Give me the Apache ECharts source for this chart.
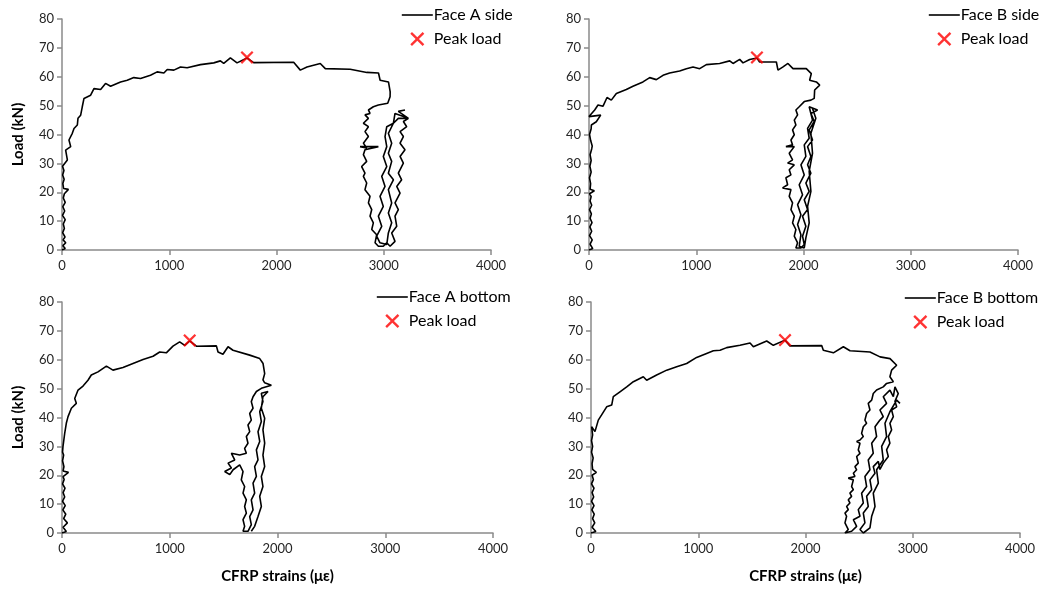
<!DOCTYPE html>
<html><head><meta charset="utf-8">
<script src="https://cdn.jsdelivr.net/npm/echarts@6/dist/echarts.min.js"></script>
<style>html,body{margin:0;padding:0;background:#fff}#c{width:1044px;height:592px}</style>
</head><body><div id="c"></div>
<script>
// Tick labels
const xTicks = [0, 1000, 2000, 3000, 4000];
const yTicks = [0, 10, 20, 30, 40, 50, 60, 70, 80];
const panelNames = ['Face A side', 'Face B side', 'Face A bottom', 'Face B bottom'];
const peakName = 'Peak load';

// [strain (με), load (kN)]
const faceASide = [
 [0,0],[30,0.5],[8,1.5],[35,2.5],[10,3.5],[28,4.5],[6,6],[22,7.5],[12,9],[30,10.5],[5,12],[25,13.5],[8,15],[30,16.5],[12,18],[22,19.5],[60,21],[15,21.3],[8,23],[20,24.5],[6,26],[18,27.5],[5,29],
 [19,28.9],[50,31.2],[34,34.6],[81,35.8],[65,38.1],[96,40.4],[112,42.1],[143,43.3],[149,45.6],[174,46.7],[189,49.6],
 [205,52.5],[267,53.6],[298,55.9],[360,55.6],[406,57.7],[453,56.7],[546,58.2],[608,58.8],[670,59.7],[732,59.4],
 [825,60.5],[887,61.7],[950,61.3],[981,62.5],[1043,62.3],[1105,63.4],[1167,63.1],[1291,64.2],[1415,64.8],[1477,65.5],
 [1508,64.6],[1570,66.5],[1632,64.8],[1725,66.5],[1787,64.9],[2160,65.0],[2222,62.3],[2284,63.4],[2408,64.6],
 [2455,62.8],[2687,62.6],[2842,61.5],[2951,61.3],[2966,58.8],[3044,58.2],[3060,54.8],
 [3059,53.1],[3037,50.8],[2950,50.2],[2903,49.6],[2857,48.5],[2872,47.3],[2825,46.8],[2857,45.6],[2810,43.9],[2857,42.7],
 [2825,41.0],[2857,39.3],[2810,37.0],[2841,35.3],[2779,35.8],[2950,35.8],[2825,34.7],[2810,33.0],[2841,30.7],[2794,28.9],
 [2825,26.6],[2810,25.5],[2841,23.2],[2825,20.9],[2872,18.6],[2857,16.3],[2888,14.0],[2872,11.7],[2903,9.4],[2888,7.1],
 [2934,5.3],[2919,2.5],[2950,1.3],[2996,1.3],[3028,2.5],[3059,1.3],[3105,3.0],[3074,5.9],[3121,8.2],[3105,11.7],
 [3136,14.0],[3105,16.3],[3152,19.7],[3121,22.0],[3167,24.3],[3136,26.6],[3183,30.1],[3152,32.4],[3198,34.7],[3152,37.0],
 [3183,39.3],[3152,41.0],[3214,42.7],[3183,44.5],[3230,45.6],[3136,45.6],[3090,43.9],[3028,42.7],[3012,39.3],[3028,35.8],
 [2996,32.4],[3028,28.9],[2981,25.5],[3012,22.0],[2965,18.6],[2996,15.1],[2950,11.7],[2981,8.2],[2934,4.8],[2965,2.5],
 [3028,1.9],[3043,5.9],[3074,9.4],[3043,12.8],[3074,16.3],[3043,20.9],[3090,24.3],[3043,26.6],[3074,30.7],[3043,33.5],
 [3074,37.0],[3043,40.4],[3090,43.9],[3105,47.3],[3230,45.6],[3136,48.0],[3198,48.5]
];
const faceBSide = [
 [0,0],[35,0.5],[10,2],[30,3.5],[5,5],[25,6.5],[8,8],[28,9.5],[10,11],[22,12.5],[5,14],[25,15.5],[10,17],[20,18.5],[5,19.5],[50,20.5],[10,21],[15,23],[5,25],[20,27],[8,29],[20,31],[10,33],[25,35],
 [30,36],[15,38],[5,40],[20,42],[22,43.3],[68,44.4],[109,46.7],[0,46.2],[53,48.5],[84,50.2],[131,49.8],[168,52.8],
 [208,51.9],[255,54.2],[348,55.6],[410,56.7],[503,58.2],[566,59.7],[628,59.0],[690,60.5],[752,61.3],[845,62.0],
 [908,62.8],[970,63.4],[1032,62.8],[1094,64.2],[1218,64.6],[1312,65.5],[1343,64.6],[1405,66.0],[1436,64.8],
 [1498,66.0],[1566,66.5],[1591,65.1],[1747,65.1],[1762,62.3],[1809,63.4],[1855,64.6],[1902,62.8],[2026,62.8],
 [2073,61.1],[2057,58.8],[2120,58.2],[2151,57.1],[2104,55.4],
 [2100,52.5],[2069,51.9],[2007,51.4],[1960,49.6],[1929,48.5],[1945,46.8],[1914,45.0],[1929,43.3],[1898,41.6],[1914,39.9],
 [1883,38.1],[1898,36.4],[1836,35.8],[1914,35.8],[1867,33.5],[1898,31.2],[1852,30.1],[1914,29.5],[1867,27.8],[1883,26.0],
 [1836,25.0],[1852,22.6],[1805,21.5],[1883,20.9],[1867,18.6],[1898,16.3],[1883,14.0],[1914,11.7],[1898,9.4],[1929,7.1],
 [1914,4.8],[1945,2.5],[1929,0.7],[1976,0.7],[2007,1.9],[1991,4.8],[2022,8.2],[1991,11.7],[2038,14.0],[2007,17.4],
 [2053,20.3],[2022,23.2],[2069,26.6],[2038,29.5],[2069,32.4],[2038,35.8],[2084,38.1],[2053,41.6],[2100,44.5],[2069,47.3],
 [2131,48.5],[2053,49.6],[2084,45.0],[2038,42.1],[2053,38.7],[2007,36.4],[2022,32.4],[1976,29.5],[2007,26.0],[1960,22.6],
 [1991,19.1],[1945,15.7],[1976,12.2],[1945,8.8],[1976,5.3],[1960,1.3],[2007,0.7],[2022,4.2],[2053,9.4],[2038,15.1],
 [2069,20.3],[2053,27.2],[2084,33.5],[2069,40.4],[2115,45.6],[2084,49.0]
];
const faceABottom = [
 [0,0],[40,0.5],[10,2],[50,3.5],[15,5],[35,6.5],[8,8],[30,9.5],[5,11],[25,12.5],[10,14],[28,15.5],[5,17],[20,18.5],[10,19.5],[60,21],[10,21.5],[18,23],[5,25],[15,27],[5,28],
 [9,29.9],[25,34.5],[40,38.0],[56,40.3],[87,43.2],[133,44.9],[118,46.6],[149,49.5],[195,50.9],[241,52.9],
 [272,54.7],[334,55.8],[412,57.8],[473,56.4],[566,57.3],[659,58.7],[752,60.1],[845,61.2],[907,62.7],[968,62.4],
 [1030,64.7],[1092,66.2],[1139,65.0],[1185,66.5],[1247,64.7],[1433,64.8],[1448,62.7],[1494,61.9],[1541,64.5],
 [1587,63.3],[1742,61.6],[1835,60.4],[1866,58.7],[1881,55.2],
 [1865,53.0],[1881,52.0],[1865,51.8],[1943,51.2],[1850,50.1],[1804,49.0],[1773,47.2],[1757,45.5],[1773,43.2],[1742,41.4],
 [1757,39.1],[1726,37.4],[1742,35.1],[1711,33.4],[1726,31.1],[1695,29.3],[1711,27.6],[1649,27.0],[1572,27.6],[1603,25.3],
 [1541,24.2],[1572,22.5],[1510,21.3],[1557,20.2],[1588,21.9],[1649,23.6],[1680,21.3],[1664,18.4],[1695,16.1],[1680,13.8],
 [1711,11.5],[1695,9.2],[1711,6.9],[1680,4.6],[1695,2.3],[1680,0.6],[1726,0.6],[1757,2.9],[1742,5.7],[1773,8.0],
 [1757,11.5],[1788,13.8],[1773,17.3],[1804,19.6],[1788,23.0],[1819,25.3],[1804,28.8],[1835,31.7],[1819,35.1],[1850,38.6],
 [1835,42.0],[1865,45.5],[1850,48.4],[1912,49.0],[1865,47.2],[1850,43.2],[1881,39.7],[1865,35.7],[1881,31.1],[1865,27.0],
 [1881,23.0],[1850,19.6],[1865,16.1],[1835,12.7],[1850,9.2],[1819,5.7],[1788,2.3],[1757,0.6]
];
const faceBBottom = [
 [0,0],[45,0.5],[10,2],[35,3.5],[15,5],[30,6.5],[8,8],[28,9.5],[5,11],[25,12.5],[10,14],[28,15.5],[5,17],[22,18.5],[10,20],[50,21],[15,22],[10,24],[20,26],[5,28],[15,30],[5,32],[15,34],
 [6,36.8],[37,35.1],[68,39.1],[99,40.9],[146,43.7],[193,44.3],[208,47.2],[270,48.9],[333,50.6],[395,52.4],
 [488,54.1],[519,52.9],[612,54.7],[706,56.4],[799,57.6],[892,58.7],[985,60.8],[1078,62.2],[1141,63.1],[1203,63.3],
 [1265,64.2],[1389,65.0],[1483,65.8],[1514,64.5],[1638,66.5],[1700,65.0],[1809,66.8],[1855,64.8],[2151,64.9],
 [2166,63.3],[2260,62.4],[2353,64.5],[2415,63.1],[2601,62.7],[2695,61.0],[2788,60.4],[2850,58.1],[2803,56.4],
 [2787,54.1],[2819,52.4],[2756,51.8],[2725,50.6],[2663,49.5],[2632,48.3],[2617,46.0],[2585,44.9],[2601,42.6],[2570,41.4],
 [2554,39.1],[2570,38.0],[2539,36.8],[2523,34.5],[2539,33.4],[2508,32.2],[2477,31.7],[2508,31.1],[2492,28.8],[2508,27.6],
 [2477,26.5],[2492,24.2],[2461,23.0],[2477,21.9],[2446,20.7],[2461,19.6],[2399,19.0],[2446,18.4],[2430,16.1],[2446,15.0],
 [2414,13.8],[2430,12.7],[2399,11.5],[2414,10.4],[2383,9.2],[2399,8.1],[2368,6.9],[2383,5.8],[2368,3.5],[2399,1.2],
 [2368,0.0],[2430,0.6],[2477,2.3],[2446,4.6],[2508,5.8],[2492,8.1],[2539,10.4],[2523,13.8],[2570,16.1],[2554,19.6],
 [2601,21.9],[2585,25.3],[2632,27.6],[2617,31.1],[2663,33.4],[2648,36.8],[2694,39.1],[2725,40.3],[2694,42.6],[2756,44.9],
 [2725,47.2],[2787,49.5],[2819,47.2],[2834,50.6],[2865,48.3],[2834,45.6],[2850,43.7],[2803,42.6],[2819,40.3],[2787,38.0],
 [2803,35.7],[2772,33.4],[2787,31.1],[2756,28.8],[2772,26.5],[2725,24.2],[2694,22.0],[2679,24.8],[2632,23.0],[2648,20.7],
 [2601,18.4],[2617,15.0],[2570,12.7],[2585,9.2],[2539,6.9],[2554,3.5],[2508,1.2],[2539,0.0],[2601,1.8],[2617,5.8],
 [2648,9.2],[2632,13.8],[2679,17.3],[2663,21.9],[2725,25.3],[2710,30.0],[2756,33.4],[2741,38.0],[2787,42.0],[2850,46.0],
 [2881,44.9]
];
const peakASide = [[1725, 66.7]];
const peakBSide = [[1566, 66.7]];
const peakABottom = [[1185, 66.7]];
const peakBBottom = [[1809, 66.8]];

const curves = [faceASide, faceBSide, faceABottom, faceBBottom];
const peaks = [peakASide, peakBSide, peakABottom, peakBBottom];

const FONT = 'Lato';
const grids = [
  {left: 62, top: 19, width: 429, height: 231},
  {left: 589, top: 19, width: 429, height: 231},
  {left: 62, top: 302, width: 431, height: 231},
  {left: 591, top: 302, width: 429, height: 231}
];
const legendPos = [
  {left: 401, top: 7}, {left: 928, top: 7}, {left: 376, top: 289}, {left: 904, top: 290}
];
const xSymbol = 'path://M0,1.2 L1.2,0 L5,3.8 L8.8,0 L10,1.2 L6.2,5 L10,8.8 L8.8,10 L5,6.2 L1.2,10 L0,8.8 L3.8,5 Z';
const axisLine = {show: true, onZero: false, lineStyle: {color: '#8a8a8a', width: 1.5}};
const axisTick = {show: true, inside: false, length: 5, lineStyle: {color: '#8a8a8a', width: 1.5}};
const labelStyle = {color: '#262626', fontFamily: FONT, fontSize: 13, formatter: v => String(v)};

const xAxis = grids.map((g, i) => ({
  type: 'value', gridIndex: i, min: xTicks[0], max: xTicks[xTicks.length - 1], interval: xTicks[1] - xTicks[0],
  axisLine, axisTick, splitLine: {show: false},
  axisLabel: Object.assign({margin: 9}, labelStyle),
  name: i >= 2 ? 'CFRP strains (με)' : '', nameLocation: 'middle', nameGap: 36,
  nameTextStyle: {fontFamily: FONT, fontSize: 15, fontWeight: 'bold', color: '#000'}
}));
const yAxis = grids.map((g, i) => ({
  type: 'value', gridIndex: i, min: yTicks[0], max: yTicks[yTicks.length - 1], interval: yTicks[1] - yTicks[0],
  axisLine, axisTick, splitLine: {show: false},
  axisLabel: Object.assign({margin: 8}, labelStyle),
  name: (i === 0 || i === 2) ? 'Load (kN)' : '', nameLocation: 'middle', nameGap: 36, nameRotate: 90,
  nameTextStyle: {fontFamily: FONT, fontSize: 15, fontWeight: 'bold', color: '#000'}
}));
const series = [];
curves.forEach((c, i) => {
  series.push({
    name: panelNames[i], type: 'line', xAxisIndex: i, yAxisIndex: i, data: c,
    symbol: 'none', showSymbol: false, smooth: false, animation: false,
    lineStyle: {color: '#000', width: 1.6}, itemStyle: {color: '#000'}, z: 2
  });
  series.push({
    name: peakName, type: 'scatter', xAxisIndex: i, yAxisIndex: i, data: peaks[i],
    symbol: xSymbol, symbolSize: 13, itemStyle: {color: '#ff0000'}, animation: false, z: 3
  });
});
const legend = legendPos.map((p, i) => ({
  left: p.left, top: p.top, padding: 0, orient: 'vertical', itemWidth: 31, itemHeight: 14, itemGap: 8,
  data: [
    {name: panelNames[i], itemStyle: {opacity: 0}, lineStyle: {color: '#000', width: 1.6}},
    {name: peakName, icon: xSymbol}
  ],
  textStyle: {fontFamily: FONT, fontSize: 16, lineHeight: 16, color: '#000', padding: [0, 0, 0, -4]},
  selectedMode: false
}));

const chart = echarts.init(document.getElementById('c'), null, {renderer: 'canvas'});
chart.setOption({
  backgroundColor: '#fff', animation: false,
  grid: grids, xAxis, yAxis, series, legend
});
</script></body></html>
